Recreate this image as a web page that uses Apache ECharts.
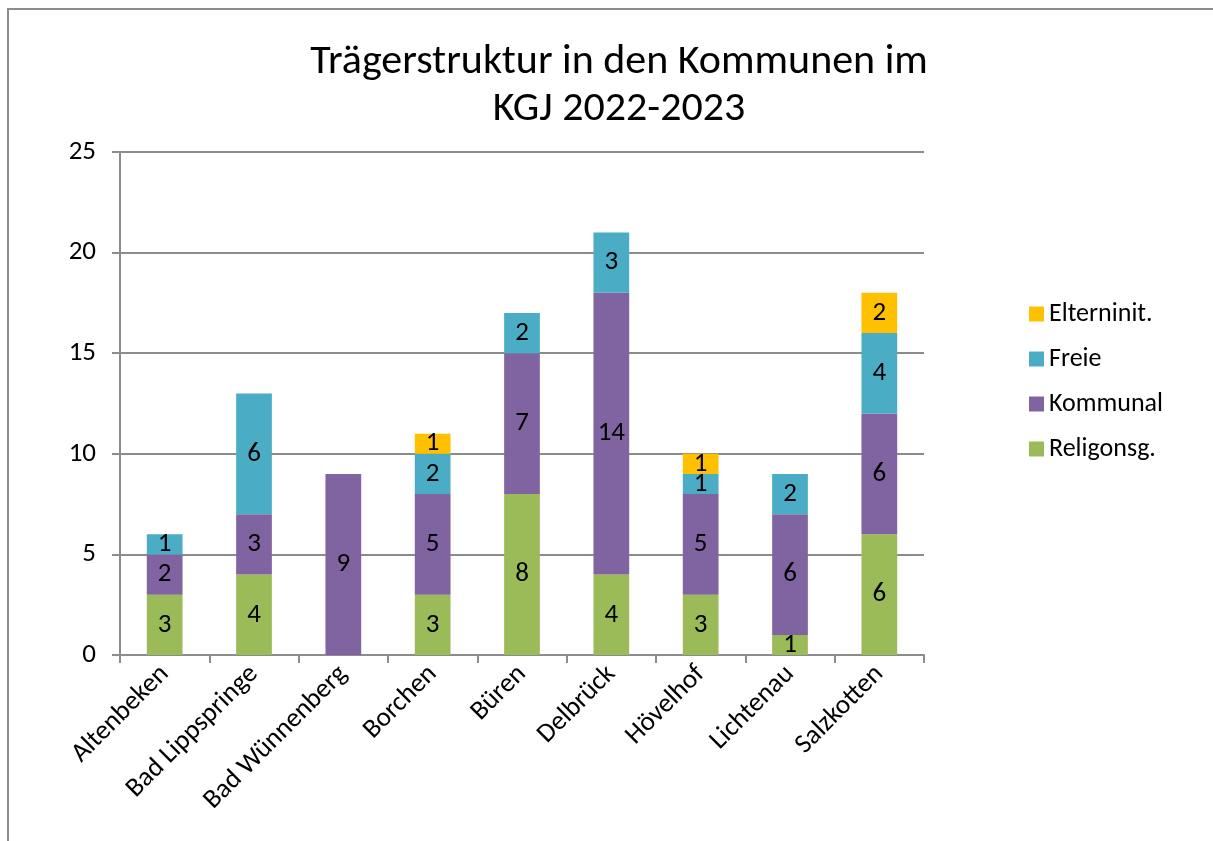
<!DOCTYPE html>
<html>
<head>
<meta charset="utf-8">
<script src="https://cdn.jsdelivr.net/npm/echarts@6/dist/echarts.min.js"></script>
<style>
  html, body { margin: 0; padding: 0; background: #fff; }
  #chart { width: 1213px; height: 841px; }
</style>
</head>
<body>
<div id="chart"></div>
<script>
// Kommunen (Kategorien)
const kommunen = ['Altenbeken', 'Bad Lippspringe', 'Bad Wünnenberg', 'Borchen', 'Büren', 'Delbrück', 'Hövelhof', 'Lichtenau', 'Salzkotten']

// Werte je Träger
const religonsg = [3, 4, 0, 3, 8, 4, 3, 1, 6]
const kommunal = [2, 3, 9, 5, 7, 14, 5, 6, 6]
const freie = [1, 6, 0, 2, 2, 3, 1, 2, 4]
const elterninit = [0, 0, 0, 1, 0, 0, 1, 0, 2]

const yTicks = [0, 5, 10, 15, 20, 25]

const font = 'Carlito, Calibri, "Open Sans", sans-serif'
const grey = '#8c8c8c'

const makeSeries = (name, data, color) => ({
  name,
  type: 'bar',
  stack: 'gesamt',
  data,
  barWidth: '40%',
  itemStyle: { color },
  label: {
    show: true,
    position: 'inside',
    color: '#000',
    fontSize: 27,
    fontFamily: font,
    formatter: p => (p.value ? p.value : '')
  }
})

const myChart = echarts.init(document.getElementById('chart'))
myChart.setOption({
  animation: false,
  title: {
    text: 'Trägerstruktur in den Kommunen im\nKGJ 2022-2023',
    left: 614,
    top: 34,
    textAlign: 'center',
    textStyle: { fontSize: 42, fontWeight: 'normal', color: '#000', fontFamily: font, lineHeight: 47 }
  },
  legend: {
    orient: 'vertical',
    left: 1024,
    top: 294,
    itemWidth: 15,
    itemHeight: 15,
    itemGap: 15,
    icon: 'rect',
    data: ['Elterninit.', 'Freie', 'Kommunal', 'Religonsg.'],
    textStyle: { fontSize: 26, color: '#000', fontFamily: font, lineHeight: 30 }
  },
  grid: { left: 120, right: 289, top: 152, bottom: 186 },
  xAxis: {
    type: 'category',
    data: kommunen,
    axisLine: { lineStyle: { color: grey, width: 2 } },
    axisTick: { show: true, length: 8, lineStyle: { color: grey, width: 2 } },
    axisLabel: { rotate: 45, color: '#000', fontSize: 27, fontFamily: font, margin: 15, interval: 0 }
  },
  yAxis: {
    type: 'value',
    min: yTicks[0],
    max: yTicks[yTicks.length - 1],
    interval: yTicks[1] - yTicks[0],
    axisLine: { show: true, lineStyle: { color: grey, width: 2 } },
    axisTick: { show: true, length: 8, lineStyle: { color: grey, width: 2 } },
    axisLabel: { color: '#000', fontSize: 27, fontFamily: font, margin: 24 },
    splitLine: { lineStyle: { color: grey, width: 2 } }
  },
  graphic: [{
    type: 'rect',
    shape: { x: 8, y: 9, width: 1400, height: 1000 },
    style: { fill: 'none', stroke: grey, lineWidth: 2 },
    silent: true
  }],
  series: [
    makeSeries('Religonsg.', religonsg, '#9bbb59'),
    makeSeries('Kommunal', kommunal, '#8064a2'),
    makeSeries('Freie', freie, '#4bacc6'),
    makeSeries('Elterninit.', elterninit, '#ffc000')
  ]
})
</script>
</body>
</html>
